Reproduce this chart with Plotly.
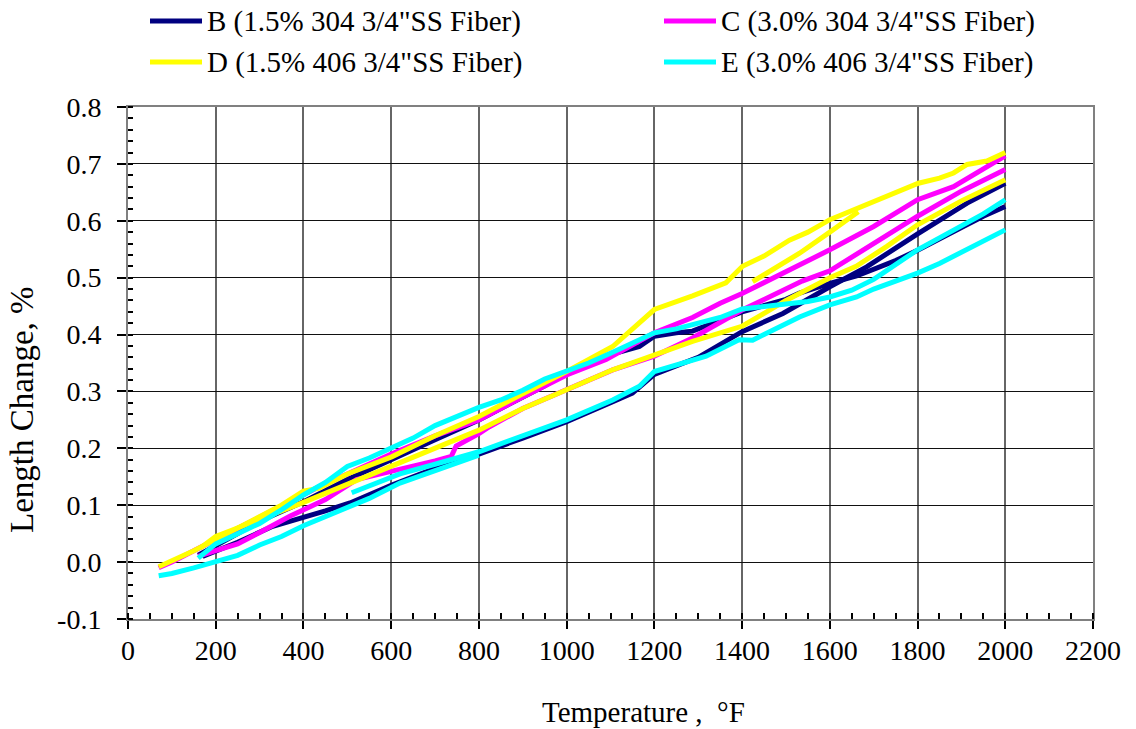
import plotly.graph_objects as go

# ---------------- data (Temperature °F, Length change %) ----------------
# Series B (1.5% 304)
B_heat_T = [170, 250, 330, 385, 450, 506, 600, 700, 800, 900, 1000, 1100, 1150, 1200, 1300, 1400, 1493, 1600, 1684, 1802, 1913, 2000]
B_heat_L = [0.010, 0.035, 0.063, 0.075, 0.090, 0.104, 0.135, 0.165, 0.190, 0.218, 0.247, 0.280, 0.297, 0.330, 0.360, 0.405, 0.437, 0.484, 0.519, 0.578, 0.631, 0.666]
B_cool_T = [2000, 1950, 1900, 1850, 1800, 1750, 1700, 1661, 1600, 1531, 1500, 1450, 1400, 1350, 1287, 1250, 1200, 1166, 1100, 1050, 1000, 950, 900, 832, 800, 700, 600, 500, 400, 350, 300, 250, 200, 160]
B_cool_L = [0.625, 0.608, 0.588, 0.567, 0.548, 0.530, 0.515, 0.503, 0.490, 0.473, 0.462, 0.450, 0.440, 0.425, 0.406, 0.403, 0.397, 0.379, 0.365, 0.350, 0.333, 0.310, 0.290, 0.262, 0.250, 0.215, 0.180, 0.145, 0.106, 0.090, 0.072, 0.050, 0.030, 0.012]

# Series C (3.0% 304)
C_heat_T = [70, 100, 150, 200, 250, 300, 350, 400, 450, 500, 600, 700, 800, 900, 1000, 1090, 1200, 1287, 1350, 1400, 1500, 1600, 1700, 1800, 1882, 1950, 2000]
C_heat_L = [-0.010, 0.000, 0.020, 0.040, 0.058, 0.080, 0.100, 0.118, 0.138, 0.155, 0.190, 0.222, 0.250, 0.290, 0.329, 0.356, 0.403, 0.430, 0.455, 0.472, 0.510, 0.549, 0.590, 0.637, 0.660, 0.690, 0.714]
C_run2_T = [2000, 1900, 1800, 1700, 1600, 1537, 1400, 1287, 1200, 1105, 1000, 900, 824, 800, 748, 737, 700, 627, 521, 450, 370, 300, 250, 200, 160]
C_run2_L = [0.690, 0.652, 0.608, 0.560, 0.512, 0.494, 0.443, 0.394, 0.362, 0.338, 0.303, 0.270, 0.238, 0.226, 0.204, 0.186, 0.178, 0.165, 0.145, 0.110, 0.081, 0.052, 0.032, 0.020, 0.010]

# Series D (1.5% 406)
D_heat_T = [70, 100, 150, 200, 250, 300, 350, 400, 436, 500, 601, 700, 800, 900, 1000, 1105, 1150, 1200, 1287, 1363, 1401, 1450, 1508, 1550, 1600, 1650, 1730, 1802, 1850, 1882, 1913, 1958, 2000]
D_heat_L = [-0.008, 0.002, 0.020, 0.040, 0.060, 0.082, 0.100, 0.125, 0.130, 0.155, 0.185, 0.222, 0.256, 0.296, 0.335, 0.379, 0.410, 0.444, 0.468, 0.491, 0.520, 0.538, 0.566, 0.580, 0.602, 0.618, 0.643, 0.666, 0.675, 0.684, 0.699, 0.705, 0.720]
D_cool_T = [2000, 1900, 1800, 1730, 1660, 1600, 1500, 1401, 1287, 1200, 1105, 1000, 900, 800, 710, 600, 500, 400, 300, 200, 165]
D_cool_L = [0.672, 0.635, 0.593, 0.555, 0.520, 0.500, 0.460, 0.415, 0.388, 0.365, 0.338, 0.303, 0.270, 0.232, 0.203, 0.168, 0.135, 0.105, 0.075, 0.045, 0.025]
D_part_T = [1424, 1480, 1531, 1600, 1665]
D_part_L = [0.493, 0.520, 0.543, 0.580, 0.616]

# Series E (3.0% 406)
E_heat_T = [160, 200, 250, 300, 350, 400, 450, 500, 550, 600, 650, 700, 750, 800, 850, 900, 950, 1000, 1050, 1100, 1150, 1200, 1250, 1300, 1350, 1400, 1450, 1500, 1550, 1600, 1650, 1700, 1750, 1800, 1850, 1900, 1950, 2000]
E_heat_L = [0.007, 0.032, 0.050, 0.068, 0.092, 0.118, 0.140, 0.168, 0.183, 0.200, 0.218, 0.240, 0.257, 0.272, 0.285, 0.302, 0.322, 0.335, 0.350, 0.367, 0.385, 0.403, 0.410, 0.420, 0.430, 0.445, 0.450, 0.453, 0.458, 0.466, 0.478, 0.497, 0.522, 0.549, 0.570, 0.590, 0.612, 0.637]
E_cool_T = [2000, 1951, 1900, 1882, 1850, 1800, 1750, 1700, 1661, 1600, 1531, 1500, 1450, 1424, 1393, 1318, 1200, 1166, 1105, 1000, 900, 800, 700, 620, 510]
E_cool_L = [0.584, 0.564, 0.545, 0.537, 0.525, 0.508, 0.495, 0.480, 0.466, 0.452, 0.431, 0.420, 0.400, 0.390, 0.391, 0.362, 0.335, 0.309, 0.285, 0.250, 0.222, 0.194, 0.172, 0.155, 0.122]
E_run2_T = [70, 100, 150, 200, 250, 300, 350, 400, 450, 500, 550, 620, 700, 800]
E_run2_L = [-0.024, -0.020, -0.010, 0.000, 0.012, 0.030, 0.045, 0.064, 0.080, 0.097, 0.112, 0.139, 0.160, 0.188]

series_names = ["B (1.5% 304 3/4\"SS Fiber)", "C (3.0% 304 3/4\"SS Fiber)",
                "D (1.5% 406 3/4\"SS Fiber)", "E (3.0% 406 3/4\"SS Fiber)"]
series_colors = ["#000080", "#FF00FF", "#FFFF00", "#00FFFF"]
series_runs = [
    [(B_heat_T, B_heat_L), (B_cool_T, B_cool_L)],
    [(C_heat_T, C_heat_L), (C_run2_T, C_run2_L)],
    [(D_heat_T, D_heat_L), (D_cool_T, D_cool_L), (D_part_T, D_part_L)],
    [(E_heat_T, E_heat_L), (E_cool_T, E_cool_L), (E_run2_T, E_run2_L)],
]

y_tick_vals = [-0.1, 0.0, 0.1, 0.2, 0.3, 0.4, 0.5, 0.6, 0.7, 0.8]
y_tick_text = ["-0.1", "0.0", "0.1", "0.2", "0.3", "0.4", "0.5", "0.6", "0.7", "0.8"]
x_title = "Temperature ,  °F"
y_title = "Length Change, %"

FONT = "Liberation Serif, Times New Roman, serif"
W, H = 1136, 729
ML, MR, MT, MB = 128, 43, 107, 110
PW, PH = W - ML - MR, H - MT - MB

fig = go.Figure()
for name, color, runs in zip(series_names, series_colors, series_runs):
    for t, l in runs:
        fig.add_trace(go.Scatter(
            x=t, y=l, mode="lines", name=name, legendgroup=name,
            showlegend=False, line=dict(color=color, width=5),
        ))

def px(xp):
    return (xp - ML) / PW

def py(yp):
    return (H - MB - yp) / PH

# manual 2x2 legend
legend_pos = [(150, 21), (664, 21), (150, 62), (664, 62)]
shapes = []
annotations = []
for (lx, ly), name, color in zip(legend_pos, series_names, series_colors):
    shapes.append(dict(type="line", xref="paper", yref="paper",
                       x0=px(lx), x1=px(lx + 52), y0=py(ly), y1=py(ly),
                       line=dict(color=color, width=5)))
    annotations.append(dict(text=name, xref="paper", yref="paper",
                            x=px(lx + 55), y=py(ly), xanchor="left", yanchor="middle",
                            showarrow=False, font=dict(size=29, family=FONT, color="black")))

# axis titles (placed like the original, off-centre)
annotations.append(dict(text=x_title, xref="paper", yref="paper", x=px(643), y=py(712),
                        xanchor="center", yanchor="middle", showarrow=False,
                        font=dict(size=29, family=FONT, color="black")))
annotations.append(dict(text=y_title, xref="paper", yref="paper", x=px(22), y=py(410),
                        xanchor="center", yanchor="middle", showarrow=False, textangle=-90,
                        font=dict(size=33, family=FONT, color="black")))

fig.update_layout(
    width=W, height=H,
    margin=dict(l=ML, r=MR, t=MT, b=MB),
    paper_bgcolor="white", plot_bgcolor="white",
    font=dict(family=FONT, size=28, color="black"),
    showlegend=False,
    shapes=shapes, annotations=annotations,
)

fig.update_xaxes(
    range=[0, 2200], dtick=200, tick0=0, automargin=False,
    showline=True, linecolor="#808080", linewidth=2, mirror=True,
    ticks="outside", ticklen=8, tickwidth=1.5, tickcolor="black",
    minor=dict(ticks="inside", dtick=50, ticklen=6, tickcolor="black", tickwidth=1.5, showgrid=False),
    showgrid=True, gridcolor="#666666", gridwidth=1.5,
    zeroline=False, ticklabelstandoff=-3,
    tickfont=dict(size=28, family=FONT),
)
fig.update_yaxes(
    range=[-0.1, 0.8], tickmode="array", tickvals=y_tick_vals, ticktext=y_tick_text,
    automargin=False,
    showline=True, linecolor="#808080", linewidth=2, mirror=True,
    ticks="outside", ticklen=9, tickwidth=1.5, tickcolor="black",
    minor=dict(ticks="inside", dtick=0.02, tick0=0, ticklen=5, tickcolor="black", tickwidth=1.5, showgrid=False),
    showgrid=True, gridcolor="#111111", gridwidth=1,
    zeroline=False, ticklabelstandoff=10,
    tickfont=dict(size=28, family=FONT),
)

fig.write_html("out.html")
